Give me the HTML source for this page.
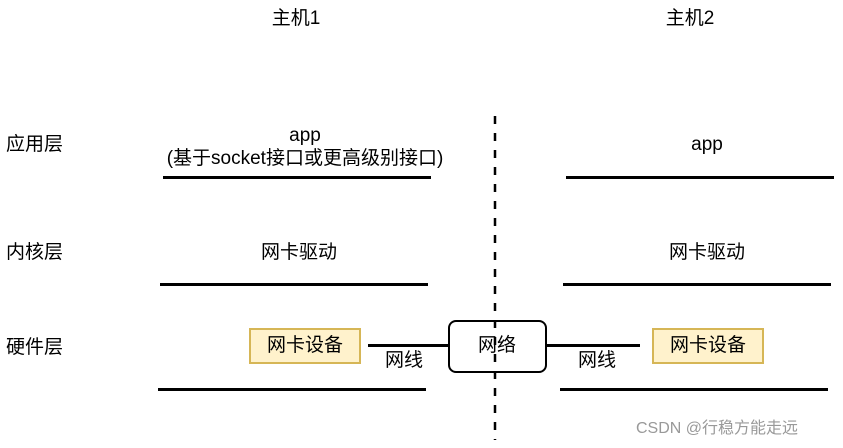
<!DOCTYPE html>
<html><head><meta charset="utf-8"><style>
body{margin:0;width:843px;height:448px;background:#fff;position:relative;overflow:hidden;font-family:"Liberation Sans","Noto Sans CJK SC",sans-serif;color:#000}
.t{position:absolute;font-size:19px;white-space:nowrap;line-height:22px}
.c{transform:translateX(-50%);text-align:center}
.l{position:absolute;height:3px;background:#000}
.nic{position:absolute;width:112px;height:36px;background:#fff2cc;border:2px solid #d6b656;box-sizing:border-box;font-size:19px;line-height:32px;text-align:center}
</style></head><body>
<div class="t c" style="left:296px;top:8px">主机1</div>
<div class="t c" style="left:690px;top:8px">主机2</div>

<div class="t" style="left:6px;top:134px">应用层</div>
<div class="t" style="left:6px;top:242px">内核层</div>
<div class="t" style="left:6px;top:337px">硬件层</div>

<div class="t c" style="left:305px;top:124px;line-height:23px">app<br>(基于socket接口或更高级别接口)</div>
<div class="t c" style="left:707px;top:134px">app</div>
<div class="l" style="left:163px;top:176px;width:268px"></div>
<div class="l" style="left:566px;top:176px;width:268px"></div>

<div class="t c" style="left:299px;top:242px">网卡驱动</div>
<div class="t c" style="left:707px;top:242px">网卡驱动</div>
<div class="l" style="left:160px;top:283px;width:268px"></div>
<div class="l" style="left:563px;top:283px;width:268px"></div>

<div class="nic" style="left:249px;top:328px">网卡设备</div>
<div class="nic" style="left:652px;top:328px">网卡设备</div>
<div class="l" style="left:368px;top:344px;width:80px"></div>
<div class="l" style="left:547px;top:344px;width:93px"></div>
<div class="t c" style="left:404px;top:350px">网线</div>
<div class="t c" style="left:597px;top:350px">网线</div>
<div style="position:absolute;left:448px;top:320px;width:99px;height:53px;border:2px solid #000;border-radius:8px;box-sizing:border-box;background:#fff"></div>
<div class="t c" style="left:497px;top:335px">网络</div>
<div class="l" style="left:158px;top:388px;width:268px"></div>
<div class="l" style="left:560px;top:388px;width:268px"></div>

<svg style="position:absolute;left:0;top:0" width="843" height="448"><line x1="495" y1="116" x2="495" y2="440" stroke="#000" stroke-width="2.5" stroke-dasharray="8,9"/></svg>

<div class="t" style="left:636px;top:418px;font-size:16px;color:#999">CSDN @行稳方能走远</div>
</body></html>
